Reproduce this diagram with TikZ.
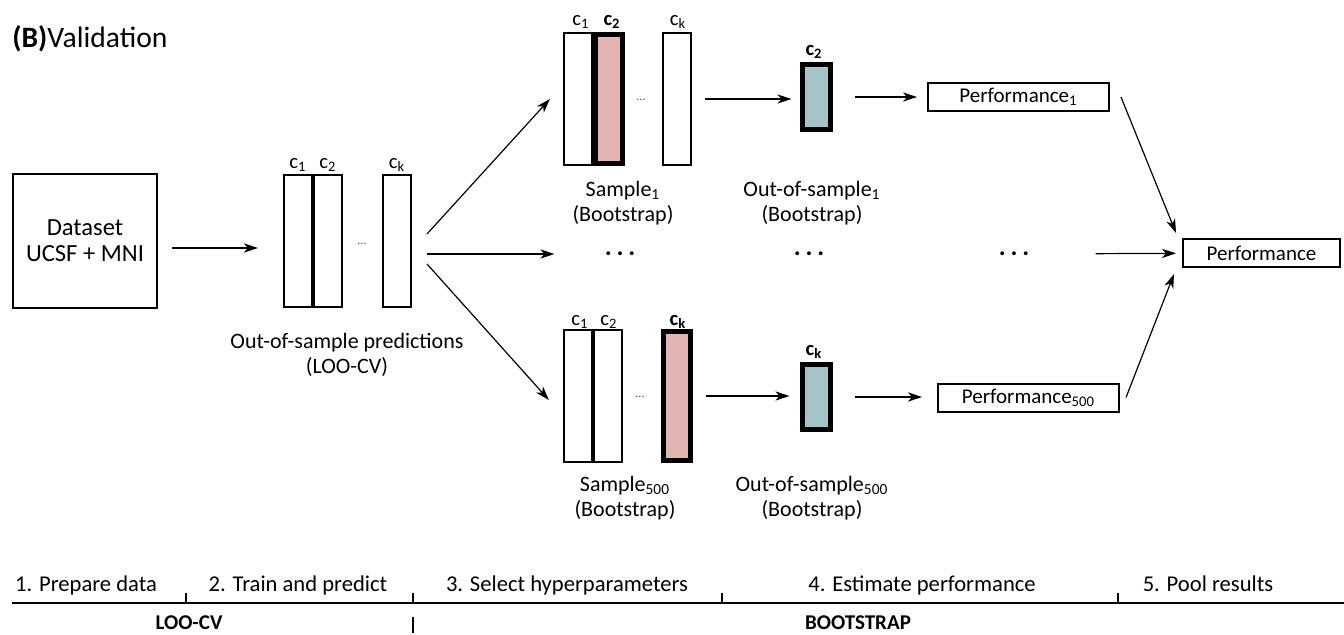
\documentclass[tikz,border=0pt]{standalone}
\usepackage{fontspec}
\setmainfont{Carlito}
\usetikzlibrary{arrows.meta}
\definecolor{pinkc}{RGB}{228,180,178}
\definecolor{bluec}{RGB}{164,196,202}
\newcommand\mydots{.\hspace{2.4pt}.\hspace{2.4pt}.}
\tikzset{
 txt/.style={font=\fontsize{11}{12.8}\selectfont, align=center, inner sep=0pt},
 col/.style={draw, line width=1.1pt, minimum width=14pt, minimum height=66pt, inner sep=0pt, fill=white},
 hcol/.style={draw, line width=2.5pt, fill=pinkc, minimum width=13.5pt, minimum height=64.5pt, inner sep=0pt},
 bcol/.style={draw, line width=2.5pt, fill=bluec, minimum width=14pt, minimum height=32.5pt, inner sep=0pt},
 clab/.style={font=\fontsize{10.3}{12}\selectfont, anchor=base, inner sep=0pt},
 pbox/.style={draw, line width=1pt, minimum height=14pt, inner sep=0pt, font=\fontsize{10.5}{12.5}\selectfont},
 arr/.style={-{Stealth[length=7pt,width=4.6pt,inset=2pt]}, line width=0.6pt},
 bigdots/.style={font=\fontsize{13}{14}\selectfont\bfseries, inner sep=0pt},
 smalldots/.style={font=\fontsize{6}{7}\selectfont, text=black!70, inner sep=0pt},
 tl/.style={line width=0.9pt},
 stg/.style={font=\fontsize{11.3}{13}\selectfont, anchor=base, inner sep=0pt},
}
\begin{document}
\begin{tikzpicture}[x=0.5pt,y=-0.5pt]
\useasboundingbox (0,0) rectangle (1344,634);
% title
\node[anchor=base west, inner sep=0pt, font=\fontsize{14.8}{17}\selectfont] (title) at (12,47) {\textbf{(B)}Validation};
% dataset
\node[draw, line width=1pt, minimum width=72pt, minimum height=67pt, align=center, inner sep=0pt, font=\fontsize{12.3}{13}\selectfont] (ds) at (85,241) {Dataset\\UCSF + MNI};
% LOO-CV columns
\node[col] (l1) at (298,241) {};
\node[col] (l2) at (328,241) {};
\node[col] (lk) at (397,241) {};
\node[clab] (l1t) at (298,168) {c\textsubscript{1}};
\node[clab] (l2t) at (328,168) {c\textsubscript{2}};
\node[clab] (lkt) at (397,168) {c\textsubscript{k}};
\node[smalldots] (ld) at (362,244) {...};
\node[txt] (lcap) at (347,355) {Out-of-sample predictions\\(LOO-CV)};
% sample 1
\node[col] (s1a) at (578,99) {};
\node[hcol] (s1b) at (609,99) {};
\node[col] (s1k) at (677,99) {};
\node[clab] at (581,25) {c\textsubscript{1}};
\node[clab] at (612,25) {\textbf{c\textsubscript{2}}};
\node[clab] at (678,25) {c\textsubscript{k}};
\node[smalldots] at (641,100) {...};
\node[txt] (s1cap) at (623,203) {Sample\textsubscript{1}\\(Bootstrap)};
% sample 500
\node[col] (s5a) at (578,396) {};
\node[col] (s5b) at (608,396) {};
\node[hcol] (s5k) at (676.5,396) {};
\node[clab] at (580,325) {c\textsubscript{1}};
\node[clab] at (609,325) {c\textsubscript{2}};
\node[clab] at (678,325) {\textbf{c\textsubscript{k}}};
\node[smalldots] at (640,397) {...};
\node[txt] (s5cap) at (625,498) {Sample\textsubscript{500}\\(Bootstrap)};
% out-of-sample boxes
\node[bcol] (b1) at (816,97) {};
\node[clab] at (814,55) {\textbf{c\textsubscript{2}}};
\node[txt] (b1cap) at (812,203) {Out-of-sample\textsubscript{1}\\(Bootstrap)};
\node[bcol] (b5) at (816,397) {};
\node[clab] at (814,355) {\textbf{c\textsubscript{k}}};
\node[txt] (b5cap) at (812,498) {Out-of-sample\textsubscript{500}\\(Bootstrap)};
% dots row
\node[bigdots] (d1) at (620,254) {\mydots};
\node[bigdots] (d2) at (809,254) {\mydots};
\node[bigdots] (d3) at (1014,254) {\mydots};
% performance boxes
\node[pbox, minimum width=90.5pt] (p1) at (1018.5,97) {Performance\textsubscript{1}};
\node[pbox, minimum width=90.5pt] (p5) at (1028.5,397.5) {Performance\textsubscript{500}};
\node[pbox, minimum width=78.5pt] (pf) at (1261.5,253) {Performance};
% connectors
\draw[arr] ([xshift=7pt,yshift=-3.5pt]ds.east) -- ([xshift=-12.5pt,yshift=-3.5pt]ds.east -| l1.west);
\coordinate (aU) at (427,234);
\coordinate (aM) at (427,254);
\coordinate (aL) at (427,264);
\draw[arr] (aU) -- ([xshift=-6.5pt]s1a.west);
\draw[arr, shorten >=25pt] (aM) -- (d1);
\draw[arr] (aL) -- ([xshift=-7pt,yshift=-2pt]s5a.west);
\draw[arr] ([xshift=6.5pt]s1k.east) -- ([xshift=-4pt]s1k.east -| b1.west);
\draw[arr] ([xshift=6.5pt]s5k.east) -- ([xshift=-5pt]s5k.east -| b5.west);
\draw[arr] ([xshift=11pt]b1.east) -- ([xshift=-5pt]b1.east -| p1.west);
\draw[arr] ([xshift=11pt]b5.east) -- ([xshift=-7.5pt]b5.east -| p5.west);
\draw[arr] ([xshift=5.5pt]p1.east) -- ([xshift=-3pt,yshift=2.5pt]pf.north west);
\draw[arr] ([xshift=3pt]p5.east) -- ([xshift=-4pt,yshift=-3pt]pf.south west);
\draw[arr, shorten <=33pt, shorten >=3pt] (d3) -- (pf);
% timeline
\draw[tl] (12,603) -- (1344,603);
\foreach \x in {186,413,722,1118} \draw[tl] (\x,593) -- (\x,603);
\draw[line width=1.4pt] (413,617) -- (413,633);
\node[stg] (t1) at (86,591) {1. Prepare data};
\node[stg] (t2) at (298,591) {2. Train and predict};
\node[stg] (t3) at (567,591) {3. Select hyperparameters};
\node[stg] (t4) at (922,591) {4. Estimate performance};
\node[stg] (t5) at (1208,591) {5. Pool results};
\node[stg, font=\fontsize{10.5}{12.5}\selectfont\bfseries] (loo) at (189,629) {LOO-CV};
\node[stg, font=\fontsize{10.5}{12.5}\selectfont\bfseries] (boot) at (858,629) {BOOTSTRAP};
\end{tikzpicture}
\end{document}
